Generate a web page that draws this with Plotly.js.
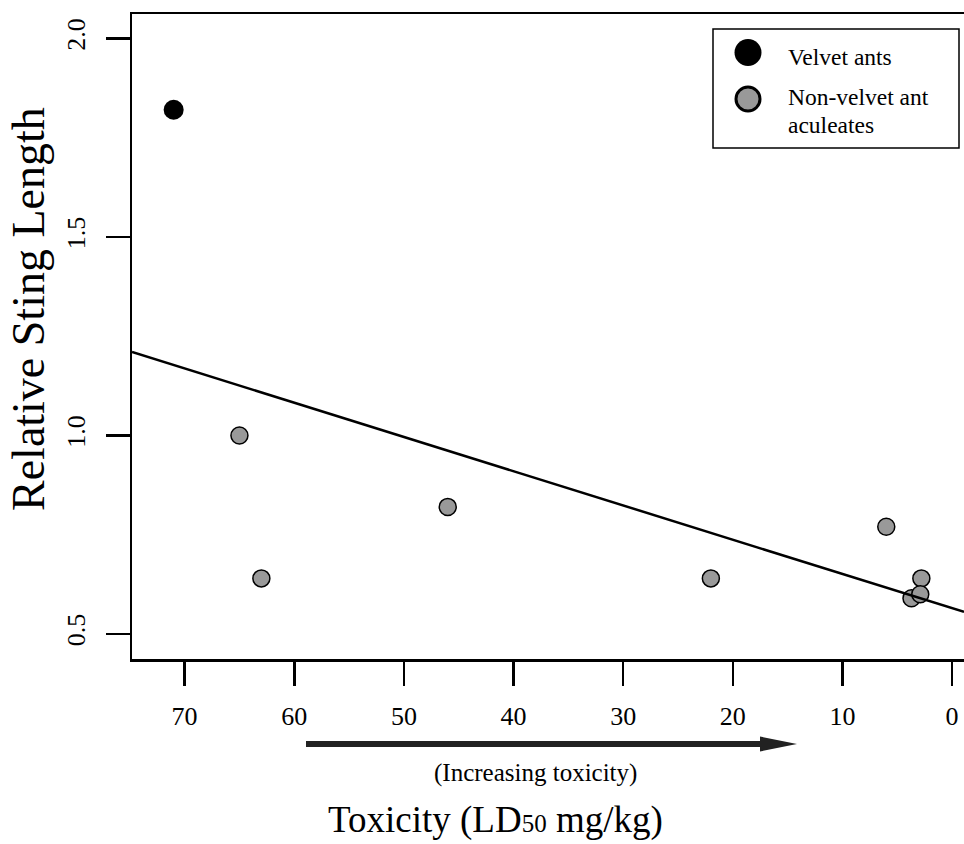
<!DOCTYPE html>
<html>
<head>
<meta charset="utf-8">
<script src="https://cdn.plot.ly/plotly-3.0.1.min.js"></script>
<style>html,body{margin:0;padding:0;background:#fff;overflow:hidden;}</style>
</head>
<body>
<div id="chart" style="width:964px;height:844px;"></div>
<script>
// Data
const velvetX = [71.0];
const velvetY = [1.82];
const otherX = [65.0, 63.0, 46.0, 22.0, 6.0, 2.8, 3.7, 2.9];
const otherY = [1.00, 0.64, 0.82, 0.64, 0.77, 0.64, 0.59, 0.60];
const xTicks = [0, 10, 20, 30, 40, 50, 60, 70];
const yTicks = [0.5, 1.0, 1.5, 2.0];
const yTickText = ['0.5', '1.0', '1.5', '2.0'];
const xRange = [74.8, -1.09];
const yRange = [0.437, 2.0612];

// Least-squares fit over all points
const allX = velvetX.concat(otherX);
const allY = velvetY.concat(otherY);
const n = allX.length;
const mx = allX.reduce((a, b) => a + b, 0) / n;
const my = allY.reduce((a, b) => a + b, 0) / n;
let sxy = 0, sxx = 0;
for (let i = 0; i < n; i++) { sxy += (allX[i] - mx) * (allY[i] - my); sxx += (allX[i] - mx) ** 2; }
const slope = sxy / sxx;
const intercept = my - slope * mx;
const fitX = xRange.slice();
const fitY = fitX.map(x => intercept + slope * x);

const FONT = 'Liberation Serif, Times New Roman, serif';
const L = 132, T = 14, W = 832, H = 645;
const px = x => (x - L) / W;
const py = y => (T + H - y) / H;

const traces = [
  { x: velvetX, y: velvetY, type: 'scatter', mode: 'markers', name: 'Velvet ants',
    marker: { size: 20, color: '#000000', line: { width: 0 } }, hoverinfo: 'x+y' },
  { x: otherX, y: otherY, type: 'scatter', mode: 'markers', name: 'Non-velvet ant aculeates',
    marker: { size: 17, color: '#999999', line: { color: '#000000', width: 1.5 } }, hoverinfo: 'x+y' },
  { x: fitX, y: fitY, type: 'scatter', mode: 'lines', name: 'fit',
    line: { color: '#000000', width: 2.5 }, hoverinfo: 'skip' }
];

const layout = {
  width: 964, height: 844,
  margin: { l: L, r: 964 - L - W, t: T, b: 844 - T - H },
  paper_bgcolor: '#ffffff', plot_bgcolor: '#ffffff',
  showlegend: false,
  font: { family: FONT, color: '#000000' },
  xaxis: {
    range: xRange, autorange: false, showgrid: false, zeroline: false,
    showline: true, linecolor: '#000000', linewidth: 2.5, mirror: true,
    ticks: 'outside', ticklen: 24, tickwidth: 2.5, tickcolor: '#000000',
    tickvals: xTicks, tickfont: { family: FONT, size: 26, color: '#000000' },
    ticklabelstandoff: 8
  },
  yaxis: {
    range: yRange, autorange: false, showgrid: false, zeroline: false,
    showline: true, linecolor: '#000000', linewidth: 2.5, mirror: false,
    ticks: 'outside', ticklen: 24, tickwidth: 2.5, tickcolor: '#000000',
    tickvals: yTicks, ticktext: yTickText, tickangle: -90,
    tickfont: { family: FONT, size: 26, color: '#000000' },
    ticklabelstandoff: 10
  },
  shapes: [
    // legend box
    { type: 'rect', xref: 'paper', yref: 'paper', x0: px(713), x1: px(959), y0: py(29), y1: py(148),
      line: { color: '#000000', width: 1.5 }, fillcolor: '#ffffff' },
    { type: 'circle', xref: 'paper', yref: 'paper', x0: px(734.5), x1: px(761.5), y0: py(39), y1: py(66),
      line: { width: 0 }, fillcolor: '#000000' },
    { type: 'circle', xref: 'paper', yref: 'paper', x0: px(736), x1: px(760), y0: py(87), y1: py(111),
      line: { color: '#000000', width: 3 }, fillcolor: '#999999' },
    // arrow
    { type: 'line', xref: 'paper', yref: 'paper', x0: px(306), x1: px(765), y0: py(744), y1: py(744),
      line: { color: '#222222', width: 6 } },
    { type: 'path', xref: 'paper', yref: 'paper',
      path: 'M ' + px(760) + ' ' + py(736.5) + ' L ' + px(797) + ' ' + py(744) + ' L ' + px(760) + ' ' + py(751.5) + ' Z',
      fillcolor: '#222222', line: { width: 0 } }
  ],
  annotations: [
    { xref: 'paper', yref: 'paper', x: px(28), y: py(309), text: 'Relative Sting Length', textangle: -90,
      showarrow: false, xanchor: 'center', yanchor: 'middle', font: { family: FONT, size: 46, color: '#000000' } },
    { xref: 'paper', yref: 'paper', x: px(495), y: py(820),
      text: 'Toxicity (LD<span style="font-size:25px">50</span> mg/kg)',
      showarrow: false, xanchor: 'center', yanchor: 'middle', font: { family: FONT, size: 37, color: '#000000' } },
    { xref: 'paper', yref: 'paper', x: px(535), y: py(773), text: '(Increasing toxicity)',
      showarrow: false, xanchor: 'center', yanchor: 'middle', font: { family: FONT, size: 25, color: '#000000' } },
    { xref: 'paper', yref: 'paper', x: px(786), y: py(57), text: 'Velvet ants',
      showarrow: false, xanchor: 'left', yanchor: 'middle', font: { family: FONT, size: 23.5, color: '#000000' } },
    { xref: 'paper', yref: 'paper', x: px(786), y: py(97), text: 'Non-velvet ant',
      showarrow: false, xanchor: 'left', yanchor: 'middle', font: { family: FONT, size: 23.5, color: '#000000' } },
    { xref: 'paper', yref: 'paper', x: px(786), y: py(125), text: 'aculeates',
      showarrow: false, xanchor: 'left', yanchor: 'middle', font: { family: FONT, size: 23.5, color: '#000000' } }
  ]
};

Plotly.newPlot('chart', traces, layout, { displayModeBar: false, staticPlot: true });
</script>
</body>
</html>
